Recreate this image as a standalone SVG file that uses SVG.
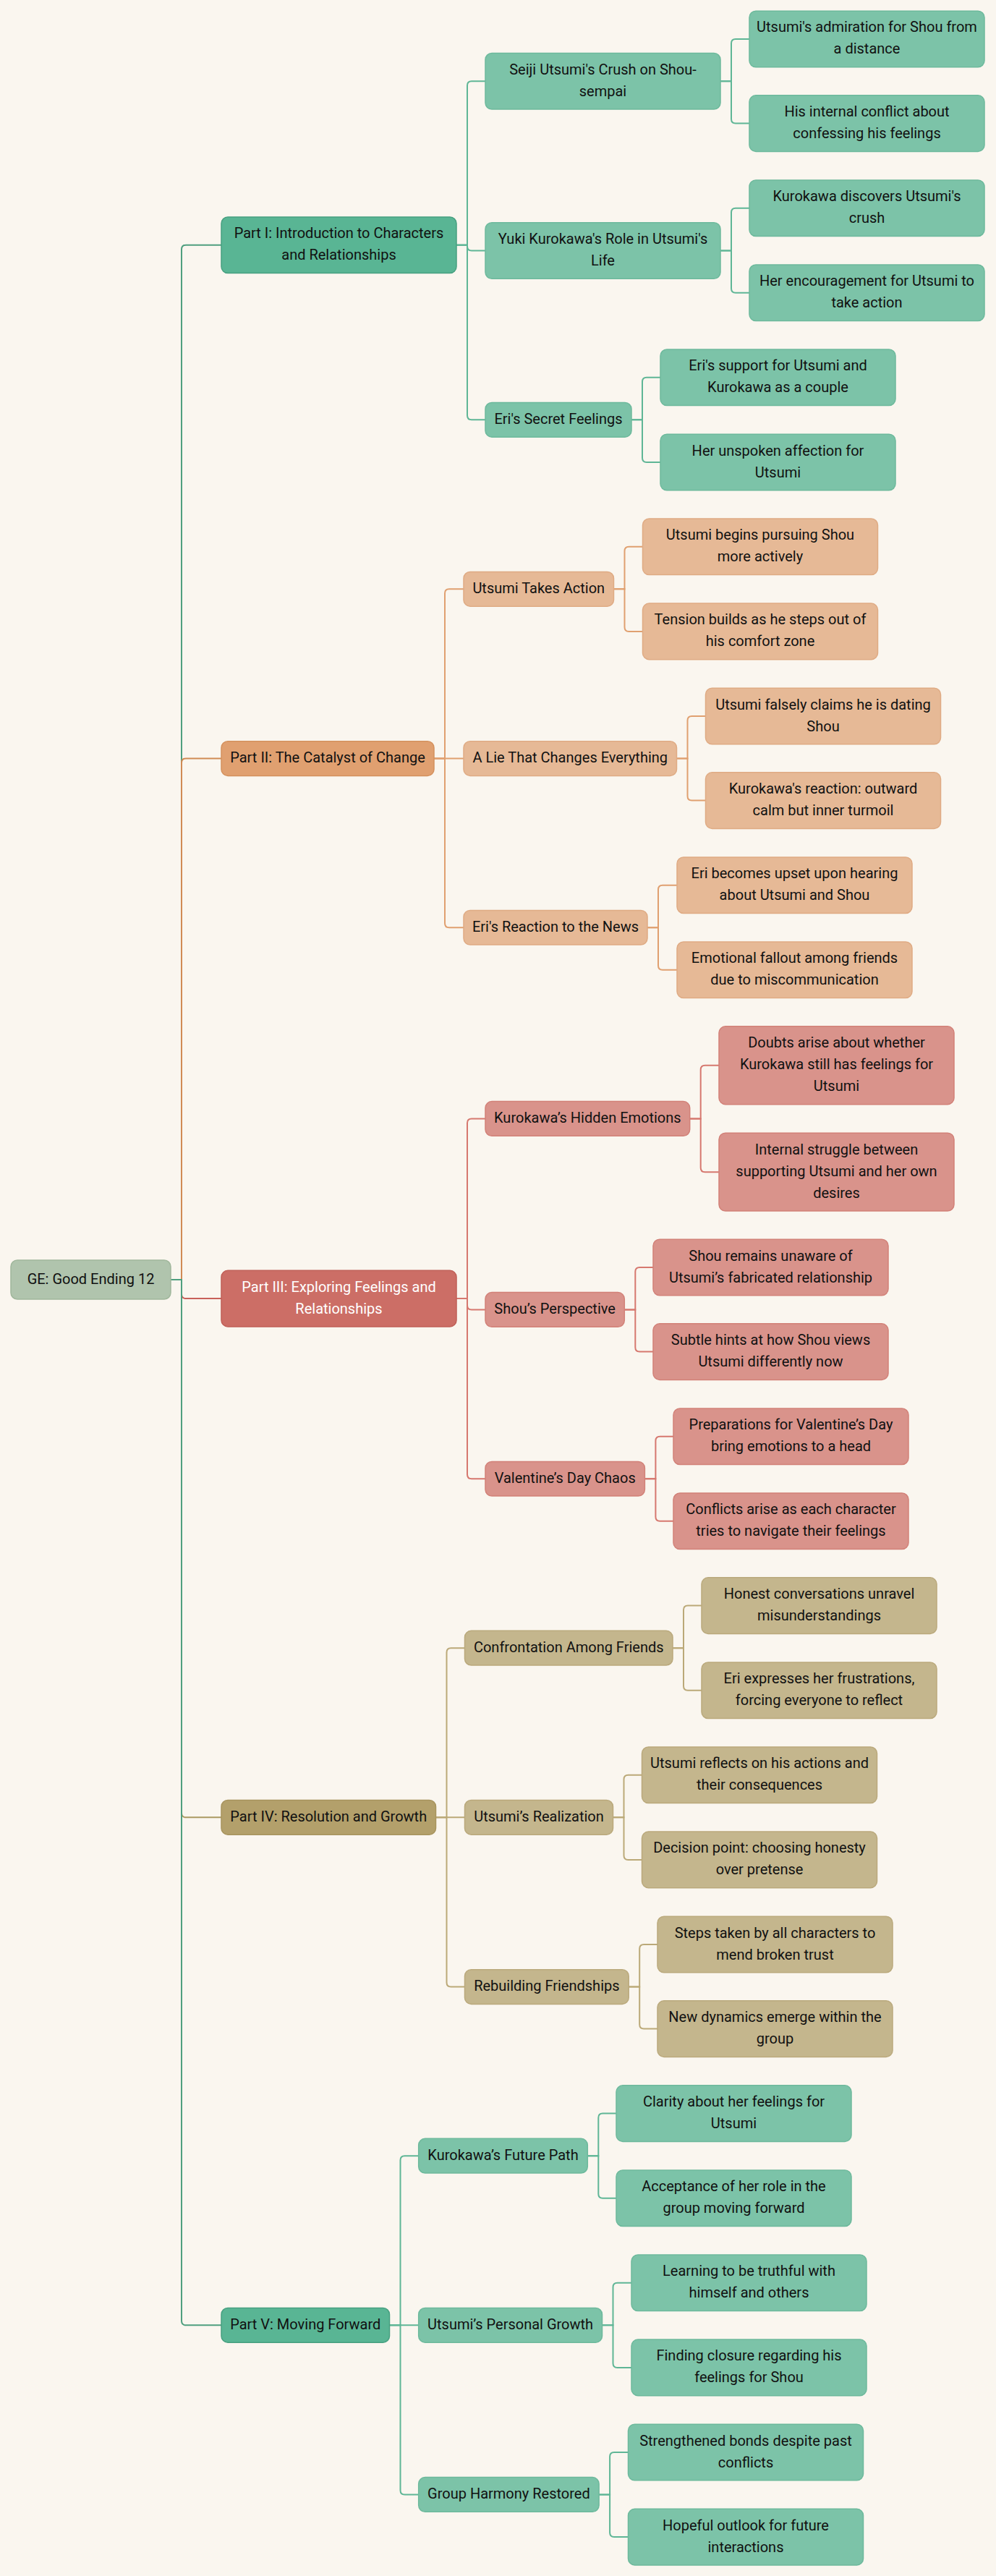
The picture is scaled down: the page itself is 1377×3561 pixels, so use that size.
<svg xmlns="http://www.w3.org/2000/svg" width="1377" height="3561" viewBox="0 0 1377 3561">
<style>
text{font-family:Roboto,"Liberation Sans",sans-serif;font-size:20px;text-anchor:middle;fill:#111}
.node rect{stroke-width:1.5}
.root rect{fill:#b0c4ad;stroke:#a0b79c}
.g1 rect{fill:#59b594;stroke:#47a080}
.g2 rect{fill:#7cc3a8;stroke:#6db99c}
.o1 rect{fill:#e0a070;stroke:#d4915d}
.o2 rect{fill:#e6b996;stroke:#dfab84}
.r1 rect{fill:#cc6e66;stroke:#c05f57}
.r1 text{fill:#ffffff}
.r2 rect{fill:#d9938b;stroke:#d28178}
.y1 rect{fill:#b3a06b;stroke:#a8945e}
.y2 rect{fill:#c4b68d;stroke:#baa97c}
#connectors path{fill:none;stroke-width:2}
.cg0{stroke:#4f9f7f}.cg{stroke:#5fb696}
.co0{stroke:#d08b55}.co{stroke:#e0a070}
.cr0{stroke:#c8615a}.cr{stroke:#d6786f}
.cy0{stroke:#ab9a63}.cy{stroke:#bba978}
</style>
<rect x="0" y="0" width="1377" height="3561" fill="#faf6ef"/>
<g id="connectors">
<path class="cg0" d="M236 1769 H251 V344.8 Q251 338.8 257 338.8 H306"/>
<path class="co0" d="M236 1769 H251 V1054.55 Q251 1048.55 257 1048.55 H306"/>
<path class="cr0" d="M236 1769 H251 V1789.1 Q251 1795.1 257 1795.1 H306"/>
<path class="cy0" d="M236 1769 H251 V2506.35 Q251 2512.35 257 2512.35 H306"/>
<path class="cg0" d="M236 1769 H251 V3208.35 Q251 3214.35 257 3214.35 H306"/>
<path class="cg" d="M631 338.8 H646 V118.3 Q646 112.3 652 112.3 H671"/>
<path class="cg" d="M631 338.8 H646 V340.5 Q646 346.5 652 346.5 H671"/>
<path class="cg" d="M631 338.8 H646 V574.35 Q646 580.35 652 580.35 H671"/>
<path class="cg" d="M996 112.3 H1011 V59.95 Q1011 53.95 1017 53.95 H1036"/>
<path class="cg" d="M996 112.3 H1011 V164.6 Q1011 170.6 1017 170.6 H1036"/>
<path class="cg" d="M996 346.5 H1011 V293.7 Q1011 287.7 1017 287.7 H1036"/>
<path class="cg" d="M996 346.5 H1011 V398.8 Q1011 404.8 1017 404.8 H1036"/>
<path class="cg" d="M873 580.35 H888 V527.8 Q888 521.8 894 521.8 H913"/>
<path class="cg" d="M873 580.35 H888 V633 Q888 639 894 639 H913"/>
<path class="co" d="M600 1048.55 H615 V820.35 Q615 814.35 621 814.35 H641"/>
<path class="co" d="M600 1048.55 H641"/>
<path class="co" d="M600 1048.55 H615 V1276.25 Q615 1282.25 621 1282.25 H641"/>
<path class="co" d="M848.5 814.35 H863.5 V761.8 Q863.5 755.8 869.5 755.8 H888.5"/>
<path class="co" d="M848.5 814.35 H863.5 V866.9 Q863.5 872.9 869.5 872.9 H888.5"/>
<path class="co" d="M935.5 1048.55 H950.5 V996 Q950.5 990 956.5 990 H975.5"/>
<path class="co" d="M935.5 1048.55 H950.5 V1100.6 Q950.5 1106.6 956.5 1106.6 H975.5"/>
<path class="co" d="M895 1282.25 H910 V1229.7 Q910 1223.7 916 1223.7 H936"/>
<path class="co" d="M895 1282.25 H910 V1334.8 Q910 1340.8 916 1340.8 H936"/>
<path class="cr" d="M631 1795.1 H646 V1552.45 Q646 1546.45 652 1546.45 H671"/>
<path class="cr" d="M631 1795.1 H646 V1804.45 Q646 1810.45 652 1810.45 H671"/>
<path class="cr" d="M631 1795.1 H646 V2038.25 Q646 2044.25 652 2044.25 H671"/>
<path class="cr" d="M953.7 1546.45 H968.7 V1478.75 Q968.7 1472.75 974.7 1472.75 H994"/>
<path class="cr" d="M953.7 1546.45 H968.7 V1614.15 Q968.7 1620.15 974.7 1620.15 H994"/>
<path class="cr" d="M863.3 1810.45 H878.3 V1758 Q878.3 1752 884.3 1752 H903"/>
<path class="cr" d="M863.3 1810.45 H878.3 V1862.6 Q878.3 1868.6 884.3 1868.6 H903"/>
<path class="cr" d="M891.4 2044.25 H906.4 V1991.7 Q906.4 1985.7 912.4 1985.7 H931"/>
<path class="cr" d="M891.4 2044.25 H906.4 V2096.8 Q906.4 2102.8 912.4 2102.8 H931"/>
<path class="cy" d="M602.5 2512.35 H617.5 V2284.15 Q617.5 2278.15 623.5 2278.15 H642.5"/>
<path class="cy" d="M602.5 2512.35 H642.5"/>
<path class="cy" d="M602.5 2512.35 H617.5 V2740.55 Q617.5 2746.55 623.5 2746.55 H642.5"/>
<path class="cy" d="M930 2278.15 H945 V2225.6 Q945 2219.6 951 2219.6 H970"/>
<path class="cy" d="M930 2278.15 H945 V2330.7 Q945 2336.7 951 2336.7 H970"/>
<path class="cy" d="M847.5 2512.35 H862.5 V2459.8 Q862.5 2453.8 868.5 2453.8 H887.5"/>
<path class="cy" d="M847.5 2512.35 H862.5 V2564.9 Q862.5 2570.9 868.5 2570.9 H887.5"/>
<path class="cy" d="M869.2 2746.55 H884.2 V2694 Q884.2 2688 890.2 2688 H909"/>
<path class="cy" d="M869.2 2746.55 H884.2 V2798.6 Q884.2 2804.6 890.2 2804.6 H909"/>
<path class="cg" d="M538.5 3214.35 H553.5 V2986.15 Q553.5 2980.15 559.5 2980.15 H578.7"/>
<path class="cg" d="M538.5 3214.35 H578.7"/>
<path class="cg" d="M538.5 3214.35 H553.5 V3442.45 Q553.5 3448.45 559.5 3448.45 H578.7"/>
<path class="cg" d="M812.3 2980.15 H827.3 V2927.6 Q827.3 2921.6 833.3 2921.6 H852"/>
<path class="cg" d="M812.3 2980.15 H827.3 V3032.7 Q827.3 3038.7 833.3 3038.7 H852"/>
<path class="cg" d="M832.5 3214.35 H847.5 V3161.8 Q847.5 3155.8 853.5 3155.8 H873"/>
<path class="cg" d="M832.5 3214.35 H847.5 V3266.9 Q847.5 3272.9 853.5 3272.9 H873"/>
<path class="cg" d="M828.1 3448.45 H843.1 V3396 Q843.1 3390 849.1 3390 H868.5"/>
<path class="cg" d="M828.1 3448.45 H843.1 V3501.1 Q843.1 3507.1 849.1 3507.1 H868.5"/>
</g>
<g id="root" class="node root"><rect x="15" y="1742" width="221" height="54" rx="9"/><text x="125.5" y="1774.5">GE: Good Ending 12</text></g>

<g id="p1" class="node g1"><rect x="306" y="300" width="325" height="77.6" rx="9"/><text><tspan x="468.5" y="329.3">Part I: Introduction to Characters</tspan><tspan x="468.5" y="359.3">and Relationships</tspan></text></g>
<g id="p1-1" class="node g2"><rect x="671" y="73.5" width="325" height="77.6" rx="9"/><text><tspan x="833.5" y="102.8">Seiji Utsumi's Crush on Shou-</tspan><tspan x="833.5" y="132.8">sempai</tspan></text></g>
<g id="p1-2" class="node g2"><rect x="671" y="307.7" width="325" height="77.6" rx="9"/><text><tspan x="833.5" y="337">Yuki Kurokawa's Role in Utsumi's</tspan><tspan x="833.5" y="367">Life</tspan></text></g>
<g id="p1-3" class="node g2"><rect x="671" y="556.5" width="202" height="47.7" rx="9"/><text x="772" y="585.85">Eri's Secret Feelings</text></g>
<g id="p1-1-1" class="node g2"><rect x="1036" y="15.2" width="325" height="77.6" rx="9"/><text><tspan x="1198.5" y="44.45">Utsumi's admiration for Shou from</tspan><tspan x="1198.5" y="74.45">a distance</tspan></text></g>
<g id="p1-1-2" class="node g2"><rect x="1036" y="131.8" width="325" height="77.6" rx="9"/><text><tspan x="1198.5" y="161.1">His internal conflict about</tspan><tspan x="1198.5" y="191.1">confessing his feelings</tspan></text></g>
<g id="p1-2-1" class="node g2"><rect x="1036" y="248.9" width="325" height="77.6" rx="9"/><text><tspan x="1198.5" y="278.2">Kurokawa discovers Utsumi's</tspan><tspan x="1198.5" y="308.2">crush</tspan></text></g>
<g id="p1-2-2" class="node g2"><rect x="1036" y="366" width="325" height="77.6" rx="9"/><text><tspan x="1198.5" y="395.3">Her encouragement for Utsumi to</tspan><tspan x="1198.5" y="425.3">take action</tspan></text></g>
<g id="p1-3-1" class="node g2"><rect x="913" y="483" width="325" height="77.6" rx="9"/><text><tspan x="1075.5" y="512.3">Eri's support for Utsumi and</tspan><tspan x="1075.5" y="542.3">Kurokawa as a couple</tspan></text></g>
<g id="p1-3-2" class="node g2"><rect x="913" y="600.2" width="325" height="77.6" rx="9"/><text><tspan x="1075.5" y="629.5">Her unspoken affection for</tspan><tspan x="1075.5" y="659.5">Utsumi</tspan></text></g>

<g id="p2" class="node o1"><rect x="306" y="1024.7" width="294" height="47.7" rx="9"/><text x="453" y="1054.05">Part II: The Catalyst of Change</text></g>
<g id="p2-1" class="node o2"><rect x="641" y="790.5" width="207.5" height="47.7" rx="9"/><text x="744.75" y="819.85">Utsumi Takes Action</text></g>
<g id="p2-2" class="node o2"><rect x="641" y="1024.7" width="294.5" height="47.7" rx="9"/><text x="788.25" y="1054.05">A Lie That Changes Everything</text></g>
<g id="p2-3" class="node o2"><rect x="641" y="1258.4" width="254" height="47.7" rx="9"/><text x="768" y="1287.75">Eri's Reaction to the News</text></g>
<g id="p2-1-1" class="node o2"><rect x="888.5" y="717" width="325" height="77.6" rx="9"/><text><tspan x="1051" y="746.3">Utsumi begins pursuing Shou</tspan><tspan x="1051" y="776.3">more actively</tspan></text></g>
<g id="p2-1-2" class="node o2"><rect x="888.5" y="834.1" width="325" height="77.6" rx="9"/><text><tspan x="1051" y="863.4">Tension builds as he steps out of</tspan><tspan x="1051" y="893.4">his comfort zone</tspan></text></g>
<g id="p2-2-1" class="node o2"><rect x="975.5" y="951.2" width="325" height="77.6" rx="9"/><text><tspan x="1138" y="980.5">Utsumi falsely claims he is dating</tspan><tspan x="1138" y="1010.5">Shou</tspan></text></g>
<g id="p2-2-2" class="node o2"><rect x="975.5" y="1067.8" width="325" height="77.6" rx="9"/><text><tspan x="1138" y="1097.1">Kurokawa's reaction: outward</tspan><tspan x="1138" y="1127.1">calm but inner turmoil</tspan></text></g>
<g id="p2-3-1" class="node o2"><rect x="936" y="1184.9" width="325" height="77.6" rx="9"/><text><tspan x="1098.5" y="1214.2">Eri becomes upset upon hearing</tspan><tspan x="1098.5" y="1244.2">about Utsumi and Shou</tspan></text></g>
<g id="p2-3-2" class="node o2"><rect x="936" y="1302" width="325" height="77.6" rx="9"/><text><tspan x="1098.5" y="1331.3">Emotional fallout among friends</tspan><tspan x="1098.5" y="1361.3">due to miscommunication</tspan></text></g>

<g id="p3" class="node r1"><rect x="306" y="1756.3" width="325" height="77.6" rx="9"/><text><tspan x="468.5" y="1785.6">Part III: Exploring Feelings and</tspan><tspan x="468.5" y="1815.6">Relationships</tspan></text></g>
<g id="p3-1" class="node r2"><rect x="671" y="1522.6" width="282.7" height="47.7" rx="9"/><text x="812.35" y="1551.95">Kurokawa’s Hidden Emotions</text></g>
<g id="p3-2" class="node r2"><rect x="671" y="1786.6" width="192.3" height="47.7" rx="9"/><text x="767.15" y="1815.95">Shou’s Perspective</text></g>
<g id="p3-3" class="node r2"><rect x="671" y="2020.4" width="220.4" height="47.7" rx="9"/><text x="781.2" y="2049.75">Valentine’s Day Chaos</text></g>
<g id="p3-1-1" class="node r2"><rect x="994" y="1418.8" width="325" height="107.9" rx="9"/><text><tspan x="1156.5" y="1448.25">Doubts arise about whether</tspan><tspan x="1156.5" y="1478.25">Kurokawa still has feelings for</tspan><tspan x="1156.5" y="1508.25">Utsumi</tspan></text></g>
<g id="p3-1-2" class="node r2"><rect x="994" y="1566.2" width="325" height="107.9" rx="9"/><text><tspan x="1156.5" y="1595.65">Internal struggle between</tspan><tspan x="1156.5" y="1625.65">supporting Utsumi and her own</tspan><tspan x="1156.5" y="1655.65">desires</tspan></text></g>
<g id="p3-2-1" class="node r2"><rect x="903" y="1713.2" width="325" height="77.6" rx="9"/><text><tspan x="1065.5" y="1742.5">Shou remains unaware of</tspan><tspan x="1065.5" y="1772.5">Utsumi’s fabricated relationship</tspan></text></g>
<g id="p3-2-2" class="node r2"><rect x="903" y="1829.8" width="325" height="77.6" rx="9"/><text><tspan x="1065.5" y="1859.1">Subtle hints at how Shou views</tspan><tspan x="1065.5" y="1889.1">Utsumi differently now</tspan></text></g>
<g id="p3-3-1" class="node r2"><rect x="931" y="1946.9" width="325" height="77.6" rx="9"/><text><tspan x="1093.5" y="1976.2">Preparations for Valentine’s Day</tspan><tspan x="1093.5" y="2006.2">bring emotions to a head</tspan></text></g>
<g id="p3-3-2" class="node r2"><rect x="931" y="2064" width="325" height="77.6" rx="9"/><text><tspan x="1093.5" y="2093.3">Conflicts arise as each character</tspan><tspan x="1093.5" y="2123.3">tries to navigate their feelings</tspan></text></g>

<g id="p4" class="node y1"><rect x="306" y="2488.5" width="296.5" height="47.7" rx="9"/><text x="454.25" y="2517.85">Part IV: Resolution and Growth</text></g>
<g id="p4-1" class="node y2"><rect x="642.5" y="2254.3" width="287.5" height="47.7" rx="9"/><text x="786.25" y="2283.65">Confrontation Among Friends</text></g>
<g id="p4-2" class="node y2"><rect x="642.5" y="2488.5" width="205" height="47.7" rx="9"/><text x="745" y="2517.85">Utsumi’s Realization</text></g>
<g id="p4-3" class="node y2"><rect x="642.5" y="2722.7" width="226.7" height="47.7" rx="9"/><text x="755.85" y="2752.05">Rebuilding Friendships</text></g>
<g id="p4-1-1" class="node y2"><rect x="970" y="2180.8" width="325" height="77.6" rx="9"/><text><tspan x="1132.5" y="2210.1">Honest conversations unravel</tspan><tspan x="1132.5" y="2240.1">misunderstandings</tspan></text></g>
<g id="p4-1-2" class="node y2"><rect x="970" y="2297.9" width="325" height="77.6" rx="9"/><text><tspan x="1132.5" y="2327.2">Eri expresses her frustrations,</tspan><tspan x="1132.5" y="2357.2">forcing everyone to reflect</tspan></text></g>
<g id="p4-2-1" class="node y2"><rect x="887.5" y="2415" width="325" height="77.6" rx="9"/><text><tspan x="1050" y="2444.3">Utsumi reflects on his actions and</tspan><tspan x="1050" y="2474.3">their consequences</tspan></text></g>
<g id="p4-2-2" class="node y2"><rect x="887.5" y="2532.1" width="325" height="77.6" rx="9"/><text><tspan x="1050" y="2561.4">Decision point: choosing honesty</tspan><tspan x="1050" y="2591.4">over pretense</tspan></text></g>
<g id="p4-3-1" class="node y2"><rect x="909" y="2649.2" width="325" height="77.6" rx="9"/><text><tspan x="1071.5" y="2678.5">Steps taken by all characters to</tspan><tspan x="1071.5" y="2708.5">mend broken trust</tspan></text></g>
<g id="p4-3-2" class="node y2"><rect x="909" y="2765.8" width="325" height="77.6" rx="9"/><text><tspan x="1071.5" y="2795.1">New dynamics emerge within the</tspan><tspan x="1071.5" y="2825.1">group</tspan></text></g>

<g id="p5" class="node g1"><rect x="306" y="3190.5" width="232.5" height="47.7" rx="9"/><text x="422.25" y="3219.85">Part V: Moving Forward</text></g>
<g id="p5-1" class="node g2"><rect x="578.7" y="2956.3" width="233.6" height="47.7" rx="9"/><text x="695.5" y="2985.65">Kurokawa’s Future Path</text></g>
<g id="p5-2" class="node g2"><rect x="578.7" y="3190.5" width="253.8" height="47.7" rx="9"/><text x="705.6" y="3219.85">Utsumi’s Personal Growth</text></g>
<g id="p5-3" class="node g2"><rect x="578.7" y="3424.6" width="249.4" height="47.7" rx="9"/><text x="703.4" y="3453.95">Group Harmony Restored</text></g>
<g id="p5-1-1" class="node g2"><rect x="852" y="2882.8" width="325" height="77.6" rx="9"/><text><tspan x="1014.5" y="2912.1">Clarity about her feelings for</tspan><tspan x="1014.5" y="2942.1">Utsumi</tspan></text></g>
<g id="p5-1-2" class="node g2"><rect x="852" y="2999.9" width="325" height="77.6" rx="9"/><text><tspan x="1014.5" y="3029.2">Acceptance of her role in the</tspan><tspan x="1014.5" y="3059.2">group moving forward</tspan></text></g>
<g id="p5-2-1" class="node g2"><rect x="873" y="3117" width="325" height="77.6" rx="9"/><text><tspan x="1035.5" y="3146.3">Learning to be truthful with</tspan><tspan x="1035.5" y="3176.3">himself and others</tspan></text></g>
<g id="p5-2-2" class="node g2"><rect x="873" y="3234.1" width="325" height="77.6" rx="9"/><text><tspan x="1035.5" y="3263.4">Finding closure regarding his</tspan><tspan x="1035.5" y="3293.4">feelings for Shou</tspan></text></g>
<g id="p5-3-1" class="node g2"><rect x="868.5" y="3351.2" width="325" height="77.6" rx="9"/><text><tspan x="1031" y="3380.5">Strengthened bonds despite past</tspan><tspan x="1031" y="3410.5">conflicts</tspan></text></g>
<g id="p5-3-2" class="node g2"><rect x="868.5" y="3468.3" width="325" height="77.6" rx="9"/><text><tspan x="1031" y="3497.6">Hopeful outlook for future</tspan><tspan x="1031" y="3527.6">interactions</tspan></text></g>
</svg>
